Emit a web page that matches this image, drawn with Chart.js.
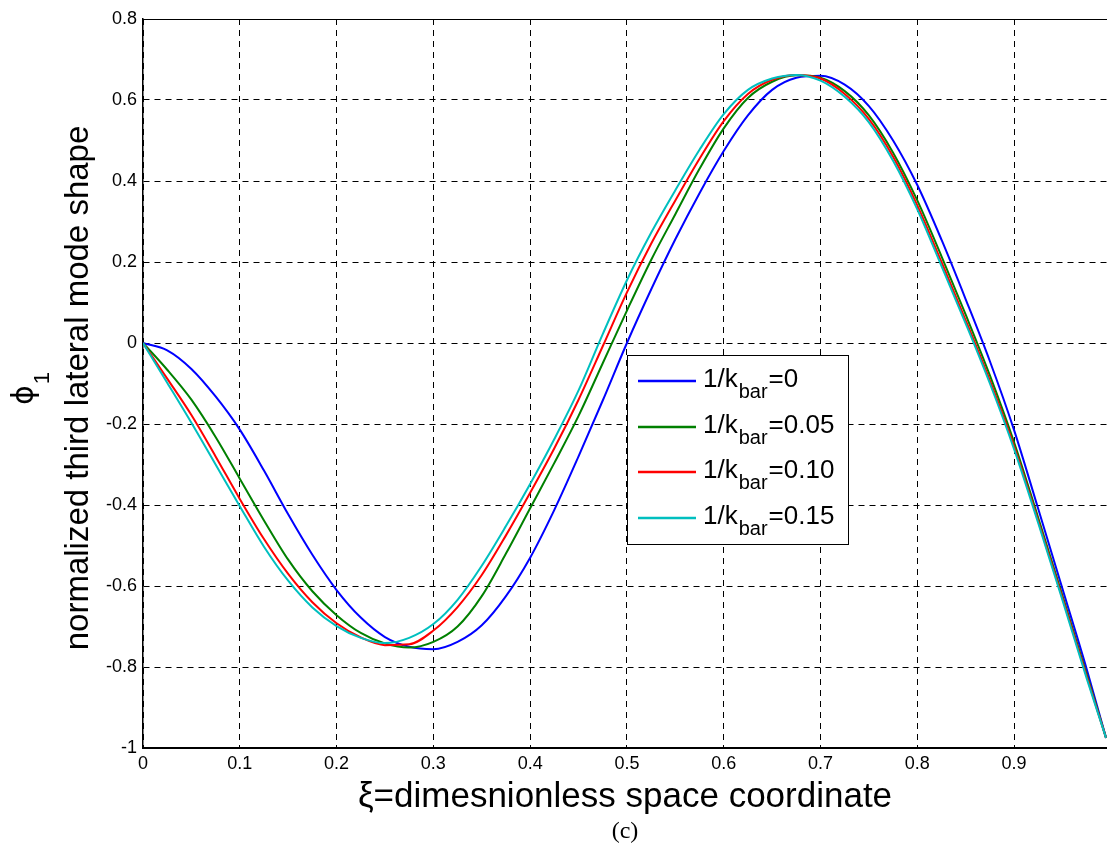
<!DOCTYPE html>
<html>
<head>
<meta charset="utf-8">
<script src="https://cdn.jsdelivr.net/npm/chart.js@4.4.1/dist/chart.umd.min.js"></script>
<style>
  html, body { margin: 0; padding: 0; background: #fff; }
  #c { display: block; }
</style>
</head>
<body>
<canvas id="c" width="1107" height="849"></canvas>
<script>
// ---------- data ----------
const xi = [0, 0.025, 0.05, 0.075, 0.1, 0.125, 0.15, 0.175, 0.2, 0.225, 0.25, 0.275, 0.3, 0.325,
  0.35, 0.375, 0.4, 0.425, 0.45, 0.475, 0.5, 0.525, 0.55, 0.575, 0.6, 0.625, 0.65, 0.675, 0.7,
  0.725, 0.75, 0.775, 0.8, 0.825, 0.85, 0.875, 0.9, 0.925, 0.95, 0.975, 0.995];

const phiK000 = [0, -0.018, -0.064, -0.132, -0.214, -0.315, -0.423, -0.523, -0.61, -0.678, -0.726,
  -0.75, -0.756, -0.738, -0.697, -0.625, -0.53, -0.412, -0.28, -0.142, 0.0, 0.132, 0.256, 0.37,
  0.474, 0.562, 0.625, 0.655, 0.66, 0.638, 0.585, 0.5, 0.39, 0.255, 0.108, -0.045, -0.215,
  -0.41, -0.607, -0.805, -0.975];

const phiK005 = [0, -0.066, -0.14, -0.232, -0.335, -0.438, -0.535, -0.613, -0.672, -0.716, -0.742,
  -0.752, -0.738, -0.7, -0.625, -0.52, -0.408, -0.296, -0.18, -0.05, 0.08, 0.205, 0.318, 0.43,
  0.53, 0.605, 0.645, 0.661, 0.655, 0.622, 0.562, 0.47, 0.352, 0.214, 0.07, -0.08, -0.245,
  -0.432, -0.624, -0.818, -0.975];

const phiK010 = [0, -0.088, -0.178, -0.28, -0.385, -0.484, -0.57, -0.64, -0.692, -0.727, -0.746,
  -0.744, -0.71, -0.652, -0.573, -0.475, -0.37, -0.26, -0.14, -0.008, 0.125, 0.245, 0.352, 0.455,
  0.548, 0.615, 0.65, 0.662, 0.653, 0.615, 0.553, 0.46, 0.34, 0.2, 0.056, -0.093, -0.255,
  -0.44, -0.63, -0.823, -0.975];

const phiK015 = [0, -0.098, -0.197, -0.3, -0.403, -0.503, -0.587, -0.653, -0.699, -0.728, -0.741,
  -0.728, -0.694, -0.634, -0.55, -0.452, -0.348, -0.237, -0.117, 0.022, 0.155, 0.272, 0.377, 0.477,
  0.565, 0.625, 0.653, 0.662, 0.648, 0.608, 0.545, 0.45, 0.33, 0.19, 0.048, -0.1, -0.262,
  -0.445, -0.635, -0.828, -0.975];

const seriesValues = ['0', '0.05', '0.10', '0.15'];
const seriesColors = ['#0000ff', '#008000', '#ff0000', '#00bfbf'];
const seriesData = [phiK000, phiK005, phiK010, phiK015];

const xTicks = [0, 0.1, 0.2, 0.3, 0.4, 0.5, 0.6, 0.7, 0.8, 0.9];
const yTicks = [-1, -0.8, -0.6, -0.4, -0.2, 0, 0.2, 0.4, 0.6, 0.8];

const xTitle = 'ξ=dimesnionless space coordinate';
const yTitleSymbol = 'ϕ';
const yTitleSub = '1';
const yTitle = 'normalized third lateral mode shape';
const caption = '(c)';
const legendMain = '1/k';
const legendSub = 'bar';

// ---------- chart ----------
const SANS = '"Liberation Sans", Arial, Helvetica, sans-serif';
const fmt = v => String(Number(v.toFixed(2)));

const datasets = seriesData.map((ys, i) => ({
  label: legendMain + legendSub + '=' + seriesValues[i],
  data: xi.map((x, j) => ({ x: x, y: ys[j] })),
  borderColor: seriesColors[i],
  backgroundColor: seriesColors[i],
  borderWidth: 2,
  pointRadius: 0,
  cubicInterpolationMode: 'monotone',
  fill: false,
  order: seriesData.length - i
}));

const decor = {
  id: 'decor',
  afterDraw(chart) {
    const ctx = chart.ctx;
    const a = chart.chartArea;
    ctx.save();
    // top frame line
    ctx.strokeStyle = '#000';
    ctx.lineWidth = 1;
    ctx.beginPath();
    ctx.moveTo(a.left, a.top + 0.5);
    ctx.lineTo(a.right, a.top + 0.5);
    ctx.stroke();

    // legend box
    const bx = 627.5, by = 355.5, bw = 221, bh = 189;
    ctx.fillStyle = '#fff';
    ctx.fillRect(bx, by, bw, bh);
    ctx.strokeStyle = '#000';
    ctx.lineWidth = 1;
    ctx.strokeRect(bx, by, bw, bh);
    const rowY = [381, 427, 472, 518];
    for (let i = 0; i < seriesValues.length; i++) {
      const y = rowY[i];
      ctx.strokeStyle = seriesColors[i];
      ctx.lineWidth = 2.5;
      ctx.beginPath();
      ctx.moveTo(638, y);
      ctx.lineTo(696, y);
      ctx.stroke();
      ctx.fillStyle = '#000';
      ctx.textAlign = 'left';
      ctx.textBaseline = 'alphabetic';
      let x = 703;
      ctx.font = '26px ' + SANS;
      ctx.fillText(legendMain, x, y + 6);
      x += ctx.measureText(legendMain).width + 1;
      ctx.font = '20px ' + SANS;
      ctx.fillText(legendSub, x, y + 17);
      x += ctx.measureText(legendSub).width + 1;
      ctx.font = '26px ' + SANS;
      ctx.fillText('=' + seriesValues[i], x, y + 6);
    }

    // x axis title
    ctx.fillStyle = '#000';
    ctx.textAlign = 'center';
    ctx.textBaseline = 'alphabetic';
    ctx.font = '35px ' + SANS;
    ctx.fillText(xTitle, (a.left + a.right) / 2, 807);

    // caption
    ctx.font = '24px "Liberation Serif", "Times New Roman", serif';
    ctx.fillText(caption, (a.left + a.right) / 2, 838);

    // y axis titles (rotated)
    ctx.save();
    ctx.rotate(-Math.PI / 2);
    ctx.textAlign = 'center';
    ctx.font = '33px ' + SANS;
    ctx.fillText(yTitle, -388, 88);
    ctx.textAlign = 'left';
    ctx.font = '30px "DejaVu Sans", sans-serif';
    const symW = ctx.measureText(yTitleSymbol).width;
    ctx.fillText(yTitleSymbol, -405, 33);
    ctx.font = '22px ' + SANS;
    ctx.fillText(yTitleSub, -405 + symW + 1, 49);
    ctx.restore();

    ctx.restore();
  }
};

new Chart(document.getElementById('c'), {
  type: 'line',
  data: { datasets: datasets },
  plugins: [decor],
  options: {
    responsive: false,
    animation: false,
    devicePixelRatio: 1,
    layout: { padding: { top: 19, right: 0, bottom: 0, left: 0 } },
    plugins: {
      legend: { display: false },
      tooltip: { enabled: false },
      title: { display: false }
    },
    scales: {
      x: {
        type: 'linear',
        min: 0,
        max: 0.996,
        afterBuildTicks: s => { s.ticks = xTicks.map(v => ({ value: v })); },
        afterFit: s => { s.height = 101; },
        ticks: {
          autoSkip: false,
          maxRotation: 0,
          padding: 5,
          color: '#000',
          font: { family: SANS, size: 18 },
          callback: v => fmt(v)
        },
        grid: { color: '#000', lineWidth: 1, drawTicks: false },
        border: { display: true, color: '#000', width: 2, dash: [6, 5] }
      },
      y: {
        type: 'linear',
        min: -1,
        max: 0.8,
        afterBuildTicks: s => { s.ticks = yTicks.map(v => ({ value: v })); },
        afterFit: s => { s.width = 143; },
        ticks: {
          autoSkip: false,
          padding: 6,
          color: '#000',
          font: { family: SANS, size: 18 },
          callback: v => fmt(v)
        },
        grid: { color: '#000', lineWidth: 1, drawTicks: false },
        border: { display: true, color: '#000', width: 1.5, dash: [6, 5] }
      }
    }
  }
});
</script>
</body>
</html>
